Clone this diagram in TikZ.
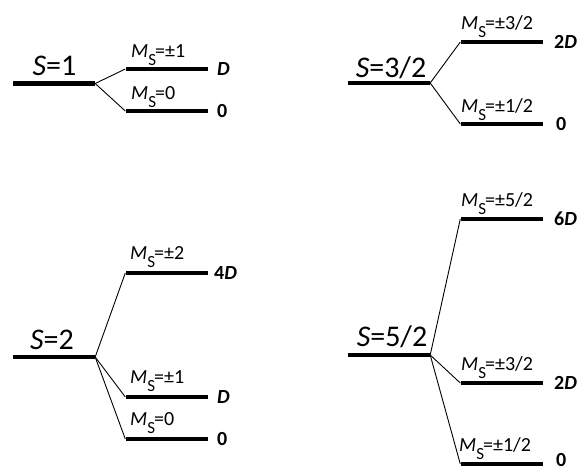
\documentclass[tikz,border=0pt]{standalone}
\usepackage{fontspec}
\setmainfont{Carlito}
\newcommand{\mslab}[1]{\textit{M}\raisebox{-8pt}{\fontsize{17}{17}\selectfont S}\kern-1pt=#1}
\begin{document}
\begin{tikzpicture}[x=1pt,y=-1pt,
 lvl/.style={fill=black,inner sep=0pt,minimum width=82pt,minimum height=4.6pt},
 conn/.style={line width=0.9pt},
 spin/.style={font=\fontsize{30}{30}\selectfont,anchor=base,inner sep=0pt},
 msl/.style={font=\fontsize{20}{20}\selectfont,anchor=base west,inner sep=0pt},
 en/.style={font=\fontsize{20}{20}\selectfont\bfseries,anchor=west,inner sep=0pt}]
\useasboundingbox (0,0) rectangle (579,471);
% S = 1
\node[lvl] (s1) at (54,83.5) {};
\node[lvl] (s1a) at (166.5,69) {};
\node[lvl] (s1b) at (166.5,111) {};
\node[spin] (t1) at (54.5,75.5) {\textit{S}=1};
\node[msl] (m1a) at (131,57) {\mslab{±1}};
\node[msl] (m1b) at (131,99) {\mslab{0}};
\node[en] (e1a) at (217,69) {\textit{D}};
\node[en] (e1b) at (217,111) {0};
\draw[conn] (s1.east) -- (s1a.west);
\draw[conn] (s1.east) -- (s1b.west);
% S = 3/2
\node[lvl] (s3) at (389,83) {};
\node[lvl] (s3a) at (501.5,42) {};
\node[lvl] (s3b) at (501.5,124) {};
\node[spin] (t3) at (391,77) {\textit{S}=3/2};
\node[msl] (m3a) at (461,29) {\mslab{±3/2}};
\node[msl] (m3b) at (461,112) {\mslab{±1/2}};
\node[en] (e3a) at (554,42) {2\textit{D}};
\node[en] (e3b) at (556,124) {0};
\draw[conn] (s3.east) -- (s3a.west);
\draw[conn] (s3.east) -- (s3b.west);
% S = 2
\node[lvl] (s2) at (54,357) {};
\node[lvl] (s2a) at (166.5,273) {};
\node[lvl] (s2b) at (166.5,397) {};
\node[lvl] (s2c) at (166.5,439) {};
\node[spin] (t2) at (52,349) {\textit{S}=2};
\node[msl] (m2a) at (130,259) {\mslab{±2}};
\node[msl] (m2b) at (130,383) {\mslab{±1}};
\node[msl] (m2c) at (130,425) {\mslab{0}};
\node[en] (e2a) at (214,273) {4\textit{D}};
\node[en] (e2b) at (217,397) {\textit{D}};
\node[en] (e2c) at (217,439) {0};
\draw[conn] (s2.east) -- (s2a.west);
\draw[conn] (s2.east) -- (s2b.west);
\draw[conn] (s2.east) -- (s2c.west);
% S = 5/2
\node[lvl] (s5) at (389,355) {};
\node[lvl] (s5a) at (501.5,219) {};
\node[lvl] (s5b) at (501.5,383) {};
\node[lvl] (s5c) at (501.5,464) {};
\node[spin] (t5) at (392,346) {\textit{S}=5/2};
\node[msl] (m5a) at (461,206) {\mslab{±5/2}};
\node[msl] (m5b) at (461,370) {\mslab{±3/2}};
\node[msl] (m5c) at (459,451) {\mslab{±1/2}};
\node[en] (e5a) at (554,219) {6\textit{D}};
\node[en] (e5b) at (554,383) {2\textit{D}};
\node[en] (e5c) at (556,460) {0};
\draw[conn] (s5.east) -- (s5a.west);
\draw[conn] (s5.east) -- (s5b.west);
\draw[conn] (s5.east) -- (s5c.west);
\end{tikzpicture}
\end{document}
